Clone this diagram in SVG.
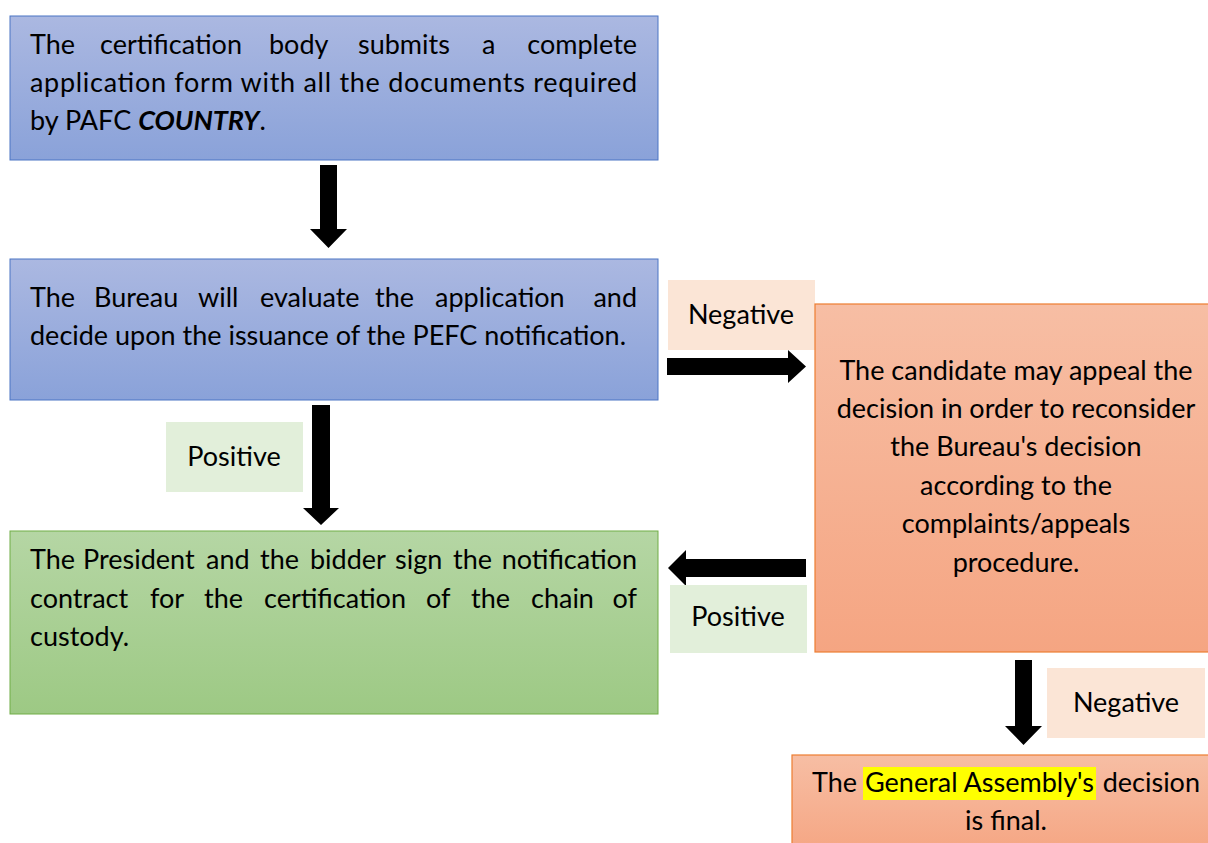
<svg xmlns="http://www.w3.org/2000/svg" width="1208" height="843" viewBox="0 0 1208 843">
<defs>
<linearGradient id="gBlue" x1="0" y1="0" x2="0" y2="1"><stop offset="0" stop-color="#abb8e1"/><stop offset="1" stop-color="#8aa2d9"/></linearGradient>
<linearGradient id="gGreen" x1="0" y1="0" x2="0" y2="1"><stop offset="0" stop-color="#b5d6a4"/><stop offset="1" stop-color="#9dc984"/></linearGradient>
<linearGradient id="gOrange" x1="0" y1="0" x2="0" y2="1"><stop offset="0" stop-color="#f7bea4"/><stop offset="1" stop-color="#f5a582"/></linearGradient>
<style>
text{font-family:Lato,"Liberation Sans",sans-serif;font-size:27px;fill:#000}
.c{text-anchor:middle}
.blue{fill:url(#gBlue);stroke:#4a74c4;stroke-width:1}
.green{fill:url(#gGreen);stroke:#70ad47;stroke-width:1}
.orange{fill:url(#gOrange);stroke:#ed7d31;stroke-width:1.2}
.neg{fill:#fbe5d6}
.pos{fill:#e2efda}
.arrow{fill:#000}
</style>
</defs>
<g id="connectors">
<polygon class="arrow" points="320,165 337,165 337,229 347,229 328.5,248 310,229 320,229"/>
<polygon class="arrow" points="312,405 330,405 330,508 339,508 321,525 303,508 312,508"/>
<polygon class="arrow" points="667,358 788,358 788,350 806,366.5 788,383 788,375 667,375"/>
<polygon class="arrow" points="806,559 686,559 686,550 668,568 686,586 686,577 806,577"/>
<polygon class="arrow" points="1015,660 1032,660 1032,726 1042,726 1023.5,745 1005,726 1015,726"/>
</g>
<g id="node1">
<rect class="blue" x="10" y="16" width="648" height="144"/>
<text y="54"><tspan x="30">The</tspan><tspan x="100">certification</tspan><tspan x="269">body</tspan><tspan x="358">submits</tspan><tspan x="482">a</tspan><tspan x="637" text-anchor="end">complete</tspan></text>
<text x="30" y="92" textLength="607" lengthAdjust="spacing">application form with all the documents required</text>
<text x="30" y="130">by PAFC <tspan font-weight="bold" font-style="italic">COUNTRY</tspan>.</text>
</g>
<g id="node2">
<rect class="blue" x="10" y="259" width="648" height="141"/>
<text y="307"><tspan x="30">The</tspan><tspan x="94">Bureau</tspan><tspan x="198">will</tspan><tspan x="260">evaluate</tspan><tspan x="375">the</tspan><tspan x="435">application</tspan><tspan x="637" text-anchor="end">and</tspan></text>
<text x="30" y="345">decide upon the issuance of the PEFC notification.</text>
</g>
<g id="label-neg1">
<rect class="neg" x="668" y="280" width="147" height="70"/>
<text class="c" x="741" y="324">Negative</text>
</g>
<g id="node3">
<rect class="orange" x="815" y="304" width="400" height="348"/>
<text class="c" x="1016" y="380">The candidate may appeal the</text>
<text class="c" x="1016" y="418">decision in order to reconsider</text>
<text class="c" x="1016" y="456">the Bureau's decision</text>
<text class="c" x="1016" y="495">according to the</text>
<text class="c" x="1016" y="533">complaints/appeals</text>
<text class="c" x="1016" y="572">procedure.</text>
</g>
<g id="label-pos1">
<rect class="pos" x="166" y="422" width="137" height="70"/>
<text class="c" x="234" y="466">Positive</text>
</g>
<g id="label-pos2">
<rect class="pos" x="670" y="585" width="137" height="68"/>
<text class="c" x="738" y="626">Positive</text>
</g>
<g id="node4">
<rect class="green" x="10" y="531" width="648" height="183"/>
<text y="569"><tspan x="30">The</tspan><tspan x="83">President</tspan><tspan x="206">and</tspan><tspan x="260">the</tspan><tspan x="310">bidder</tspan><tspan x="395">sign</tspan><tspan x="453">the</tspan><tspan x="637" text-anchor="end">notification</tspan></text>
<text y="608"><tspan x="30">contract</tspan><tspan x="150">for</tspan><tspan x="204">the</tspan><tspan x="264">certification</tspan><tspan x="426">of</tspan><tspan x="471">the</tspan><tspan x="531">chain</tspan><tspan x="637" text-anchor="end">of</tspan></text>
<text x="30" y="646">custody.</text>
</g>
<g id="label-neg2">
<rect class="neg" x="1047" y="668" width="158" height="70"/>
<text class="c" x="1126" y="712">Negative</text>
</g>
<g id="node5">
<rect class="orange" x="792" y="755" width="420" height="100"/>
<rect x="863" y="767" width="233" height="33" fill="#ffff00"/>
<text y="792"><tspan x="812">The</tspan><tspan x="865">General Assembly's</tspan><tspan x="1200" text-anchor="end">decision</tspan></text>
<text class="c" x="1006" y="830">is final.</text>
</g>
</svg>
